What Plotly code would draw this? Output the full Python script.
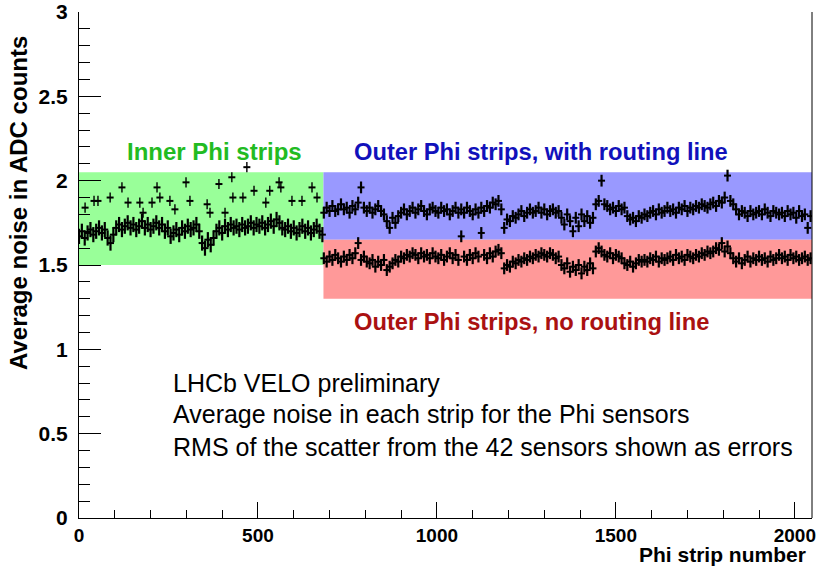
import numpy as np
import plotly.graph_objects as go

# ---------------- data ----------------
STEP = 8
inner_start = 0
inner_vals = [
    1.67, 1.70, 1.66, 1.69, 1.71, 1.68, 1.70, 1.72,
    1.69, 1.71, 1.66, 1.63, 1.68, 1.72, 1.74, 1.71,
    1.73, 1.75, 1.72, 1.74, 1.71, 1.73, 1.76, 1.72,
    1.74, 1.71, 1.73, 1.75, 1.72, 1.74, 1.70, 1.72,
    1.67, 1.69, 1.71, 1.68, 1.72, 1.70, 1.73, 1.71,
    1.72, 1.74, 1.70, 1.63, 1.60, 1.65, 1.62, 1.66,
    1.70, 1.72, 1.69, 1.73, 1.71, 1.74, 1.72, 1.73,
    1.71, 1.74, 1.72, 1.73, 1.75, 1.72, 1.74, 1.73,
    1.75, 1.72, 1.74, 1.76, 1.73, 1.77, 1.75, 1.72,
    1.71, 1.73, 1.70, 1.72, 1.69, 1.71, 1.73, 1.70,
    1.72, 1.69, 1.71, 1.73, 1.70, 1.68,
]
inner_spike_strips = [17, 42, 53, 87, 120, 137, 170, 179, 204, 218, 226, 254, 268,
                      299, 310, 358, 366, 391, 408, 427, 430, 458, 469, 489, 522,
                      533, 559, 564, 595, 623, 651, 665]
inner_spike_vals = [1.84, 1.88, 1.88, 1.90, 1.96, 1.87, 1.87, 1.81, 1.87, 1.96, 1.90,
                    1.88, 1.83, 1.99, 1.88, 1.86, 1.81, 1.98, 1.81, 2.02, 1.90, 1.90,
                    2.08, 1.94, 1.87, 1.94, 1.99, 1.96, 1.88, 1.88, 1.96, 1.90]

outer_start = 684
routing_vals = [
    1.81, 1.84, 1.82, 1.85, 1.82, 1.83, 1.86, 1.83,
    1.84, 1.81, 1.85, 1.83, 1.87, 1.96, 1.84, 1.82,
    1.84, 1.81, 1.83, 1.85, 1.82, 1.80, 1.76, 1.72,
    1.78, 1.75, 1.79, 1.81, 1.83, 1.80, 1.82, 1.84,
    1.81, 1.83, 1.85, 1.82, 1.80, 1.83, 1.84, 1.82,
    1.81, 1.84, 1.82, 1.83, 1.80, 1.82, 1.84, 1.81,
    1.83, 1.81, 1.84, 1.82, 1.80, 1.83, 1.81, 1.84,
    1.82, 1.85, 1.84, 1.87, 1.86, 1.88, 1.83, 1.72,
    1.77, 1.76, 1.79, 1.78, 1.80, 1.82, 1.79, 1.81,
    1.83, 1.81, 1.82, 1.84, 1.81, 1.83, 1.80, 1.82,
    1.83, 1.81, 1.82, 1.78, 1.74, 1.80, 1.76, 1.70,
    1.78, 1.73, 1.80, 1.76, 1.79, 1.75, 1.78, 1.86,
    1.88, 2.00, 1.86, 1.85, 1.83, 1.84, 1.82, 1.85,
    1.83, 1.84, 1.79, 1.77, 1.78, 1.76, 1.79, 1.78,
    1.80, 1.79, 1.81, 1.82, 1.80, 1.83, 1.81, 1.82,
    1.84, 1.82, 1.83, 1.81, 1.84, 1.83, 1.85, 1.82,
    1.84, 1.83, 1.85, 1.84, 1.86, 1.85, 1.84, 1.86,
    1.87, 1.85, 1.88, 1.87, 1.90, 2.03, 1.88, 1.86,
    1.83, 1.80, 1.82, 1.81, 1.79, 1.82, 1.80, 1.81,
    1.82, 1.80, 1.83, 1.81, 1.79, 1.82, 1.81, 1.80,
    1.81, 1.79, 1.82, 1.80, 1.81, 1.78, 1.82, 1.79,
    1.80, 1.72, 1.79,
]
norouting_vals = [
    1.54, 1.52, 1.55, 1.53, 1.56, 1.54, 1.52, 1.55,
    1.53, 1.56, 1.54, 1.57, 1.63, 1.53, 1.55, 1.52,
    1.51, 1.53, 1.49, 1.52, 1.50, 1.53, 1.47, 1.49,
    1.51, 1.53, 1.52, 1.55, 1.54, 1.56, 1.55, 1.57,
    1.56, 1.54, 1.57, 1.55, 1.56, 1.54, 1.57, 1.55,
    1.54, 1.56, 1.53, 1.55, 1.57, 1.54, 1.56, 1.53,
    1.67, 1.55, 1.53, 1.56, 1.54, 1.57, 1.55, 1.69,
    1.56, 1.54, 1.57, 1.55, 1.58, 1.59, 1.57, 1.48,
    1.50, 1.49, 1.52, 1.51, 1.53, 1.52, 1.54, 1.53,
    1.55, 1.54, 1.56, 1.55, 1.57, 1.56, 1.55, 1.57,
    1.56, 1.54, 1.55, 1.50, 1.48, 1.51, 1.46, 1.49,
    1.47, 1.50, 1.45, 1.49, 1.47, 1.51, 1.48, 1.58,
    1.60, 1.58, 1.56, 1.55, 1.57, 1.54, 1.56, 1.55,
    1.54, 1.51, 1.50, 1.52, 1.49, 1.51, 1.53, 1.52,
    1.53, 1.52, 1.54, 1.53, 1.55, 1.52, 1.54, 1.53,
    1.54, 1.55, 1.53, 1.56, 1.54, 1.55, 1.53, 1.56,
    1.55, 1.54, 1.56, 1.55, 1.57, 1.56, 1.58, 1.57,
    1.58, 1.60, 1.59, 1.63, 1.58, 1.61, 1.57, 1.54,
    1.52, 1.54, 1.51, 1.53, 1.55, 1.52, 1.54, 1.53,
    1.55, 1.53, 1.54, 1.52, 1.55, 1.53, 1.54, 1.56,
    1.54, 1.55, 1.53, 1.56, 1.54, 1.55, 1.53, 1.54,
    1.55, 1.53, 1.54,
]
inner_err = 0.045
outer_err = 0.035
spike_err = 0.03

# regions (strip range, noise band)
inner_range = [0, 683]
outer_range = [683, 2048]
inner_band = [1.50, 2.05]
routing_band = [1.65, 2.05]
norouting_band = [1.30, 1.65]

x_range = [0, 2048]
y_range = [0, 3]

# ---------------- figure ----------------
inner_x = inner_start + STEP * np.arange(len(inner_vals))
outer_x_r = outer_start + STEP * np.arange(len(routing_vals))
outer_x_n = outer_start + STEP * np.arange(len(norouting_vals))

FONT = "Liberation Sans, Arial, Helvetica, sans-serif"

def pts(x, y, err, thick=2.2):
    return go.Scatter(
        x=x, y=y, mode="markers",
        marker=dict(symbol="line-ew", size=5, color="black",
                    line=dict(color="black", width=2)),
        error_y=dict(type="constant", value=err, color="black",
                     thickness=thick, width=0),
        showlegend=False, hoverinfo="x+y",
    )

fig = go.Figure()
fig.add_trace(pts(inner_x, inner_vals, inner_err))
fig.add_trace(pts(inner_spike_strips, inner_spike_vals, spike_err, thick=1.4))
fig.add_trace(pts(outer_x_r, routing_vals, outer_err))
fig.add_trace(pts(outer_x_n, norouting_vals, outer_err))

shapes = [
    dict(type="rect", xref="x", yref="y", x0=inner_range[0], x1=inner_range[1],
         y0=inner_band[0], y1=inner_band[1], fillcolor="#99ff99",
         line=dict(width=0), layer="below"),
    dict(type="rect", xref="x", yref="y", x0=outer_range[0], x1=outer_range[1],
         y0=routing_band[0], y1=routing_band[1], fillcolor="#9999ff",
         line=dict(width=0), layer="below"),
    dict(type="rect", xref="x", yref="y", x0=outer_range[0], x1=outer_range[1],
         y0=norouting_band[0], y1=norouting_band[1], fillcolor="#ff9999",
         line=dict(width=0), layer="below"),
    dict(type="line", xref="paper", yref="paper", x0=1, x1=1, y0=0, y1=1,
         line=dict(color="black", width=1)),
]

W, H = 819, 568
L, R, T, B = 79, 7, 12, 50
pw, ph = W - L - R, H - T - B

def px(xp):
    return (xp - L) / pw

def py(yp):
    return (H - B - yp) / ph

annotations = [
    dict(text="Inner Phi strips", x=px(125), y=py(152), xanchor="left", yanchor="middle",
         font=dict(size=24, color="#22bb22", family=FONT, weight="bold")),
    dict(text="Outer Phi strips, with routing line", x=px(352), y=py(152), xanchor="left",
         yanchor="middle", font=dict(size=23.7, color="#1111bb", family=FONT, weight="bold")),
    dict(text="Outer Phi strips, no routing line", x=px(352), y=py(322), xanchor="left",
         yanchor="middle", font=dict(size=23.7, color="#aa1111", family=FONT, weight="bold")),
    dict(text="LHCb VELO preliminary", x=px(171), y=py(383), xanchor="left",
         yanchor="middle", font=dict(size=25, color="black", family=FONT)),
    dict(text="Average noise in each strip for the Phi sensors", x=px(171), y=py(414),
         xanchor="left", yanchor="middle", font=dict(size=25, color="black", family=FONT)),
    dict(text="RMS of the scatter from the 42 sensors shown as errors", x=px(171), y=py(447),
         xanchor="left", yanchor="middle", font=dict(size=25, color="black", family=FONT)),
    dict(text="Average noise in ADC counts", x=px(18), y=py(203), xanchor="center",
         yanchor="middle", textangle=-90,
         font=dict(size=24, color="black", family=FONT, weight="bold")),
    dict(text="Phi strip number", x=px(808), y=py(568), xanchor="right",
         yanchor="bottom", font=dict(size=21, color="black", family=FONT, weight="bold")),
]
for a in annotations:
    a.update(xref="paper", yref="paper", showarrow=False)

fig.update_layout(
    width=W, height=H,
    margin=dict(l=L, r=R, t=T, b=B, pad=0),
    paper_bgcolor="white", plot_bgcolor="white",
    shapes=shapes, annotations=annotations,
    xaxis=dict(range=x_range, showgrid=False, zeroline=False, showline=True,
               linecolor="black", linewidth=1, ticks="inside", ticklen=16,
               tickcolor="black", dtick=500, tick0=0, automargin=False,
               ticklabeloverflow="allow", ticklabelstandoff=0,
               tickfont=dict(size=19, family=FONT, weight="bold", color="black"),
               minor=dict(dtick=100, ticks="inside", ticklen=8, tickcolor="black")),
    yaxis=dict(range=y_range, showgrid=False, zeroline=False, showline=True,
               linecolor="black", linewidth=1, ticks="inside", ticklen=22,
               tickcolor="black", dtick=0.5, tick0=0, automargin=False,
               ticklabelstandoff=6,
               tickfont=dict(size=21, family=FONT, weight="bold", color="black"),
               minor=dict(dtick=0.1, ticks="inside", ticklen=11, tickcolor="black")),
)

fig.write_html("out.html")
